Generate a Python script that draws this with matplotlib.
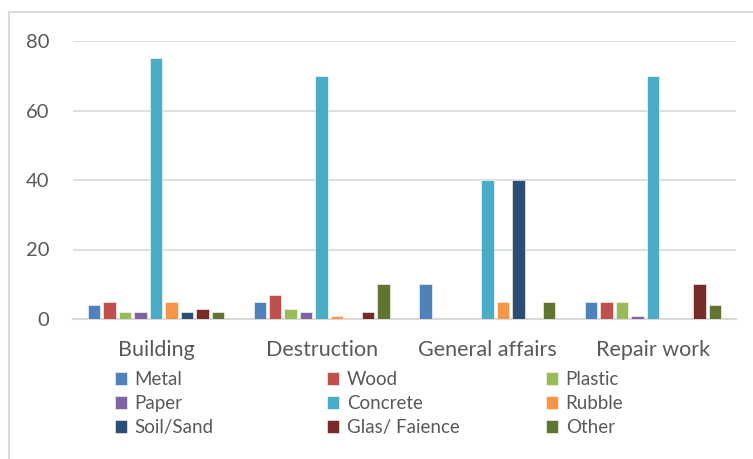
import matplotlib.pyplot as plt
import numpy as np
from matplotlib.patches import Rectangle

# Data
categories = ['Building', 'Destruction', 'General affairs', 'Repair work']
materials = ['Metal', 'Wood', 'Plastic', 'Paper', 'Concrete', 'Rubble',
             'Soil/Sand', 'Glas/ Faience', 'Other']
metal = [4, 5, 10, 5]
wood = [5, 7, 0, 5]
plastic = [2, 3, 0, 5]
paper = [2, 2, 0, 1]
concrete = [75, 70, 40, 70]
rubble = [5, 1, 5, 0]
soil_sand = [2, 0, 40, 0]
glas_faience = [3, 2, 0, 10]
other = [2, 10, 5, 4]
y_ticks = [0, 20, 40, 60, 80]

colors = ['#4F81BD', '#C0504D', '#9BBB59', '#8064A2', '#4BACC6',
          '#F79646', '#2C4D75', '#772C2A', '#5F7530']
text_color = '#595959'

plt.rcParams['font.family'] = ['Lato', 'DejaVu Sans']

series = [metal, wood, plastic, paper, concrete, rubble,
          soil_sand, glas_faience, other]

fig = plt.figure(figsize=(7.53, 4.59), dpi=100)
ax = fig.add_axes([73 / 753, 1 - 319 / 459, (736 - 73) / 753, (319 - 41) / 459])

x = np.arange(len(categories))
slot = 0.84 / len(series)
bar_w = 0.075
handles = []
for i, (name, vals) in enumerate(zip(materials, series)):
    offs = (i - (len(series) - 1) / 2) * slot
    vals = np.array(vals, dtype=float)
    bars = ax.bar(x + offs, vals, width=bar_w, color=colors[i], label=name,
                  edgecolor='white', linewidth=0.4, zorder=3)
    handles.append(bars)

ax.set_xlim(-0.5, len(categories) - 0.5)
ax.set_ylim(0, 80)
ax.set_yticks(y_ticks)
ax.yaxis.grid(True, color='#D9D9D9', linewidth=1.2, zorder=0)
for s in ['top', 'right', 'left']:
    ax.spines[s].set_visible(False)
ax.spines['bottom'].set_color('#D9D9D9')
ax.spines['bottom'].set_linewidth(1.5)
ax.tick_params(axis='both', length=0, colors=text_color, labelsize=14.5)
ax.tick_params(axis='y', pad=17)
ax.tick_params(axis='x', pad=15)
ax.set_xticks(x)
ax.set_xticklabels(categories, fontsize=15.5)

# legend: three columns, placed like the original (row by row order)
col_x = [115, 327, 546]
for c in range(3):
    idx = [c, c + 3, c + 6]
    leg = fig.legend([handles[k] for k in idx], [materials[k] for k in idx],
                     loc='upper left', bbox_to_anchor=(col_x[c] / 753, 1 - 371 / 459),
                     frameon=False, fontsize=13.5, handlelength=0.65,
                     handleheight=0.65, handletextpad=0.4, labelspacing=0.38,
                     borderaxespad=0, borderpad=0)
    for t in leg.get_texts():
        t.set_color(text_color)

# chart border
fig.patches.append(Rectangle((9 / 753, -0.1), 1.0, 1 - 12 / 459 + 0.1,
                             transform=fig.transFigure, fill=False,
                             edgecolor='#D9D9D9', linewidth=1.5))

fig.savefig('out.png', dpi=100)
